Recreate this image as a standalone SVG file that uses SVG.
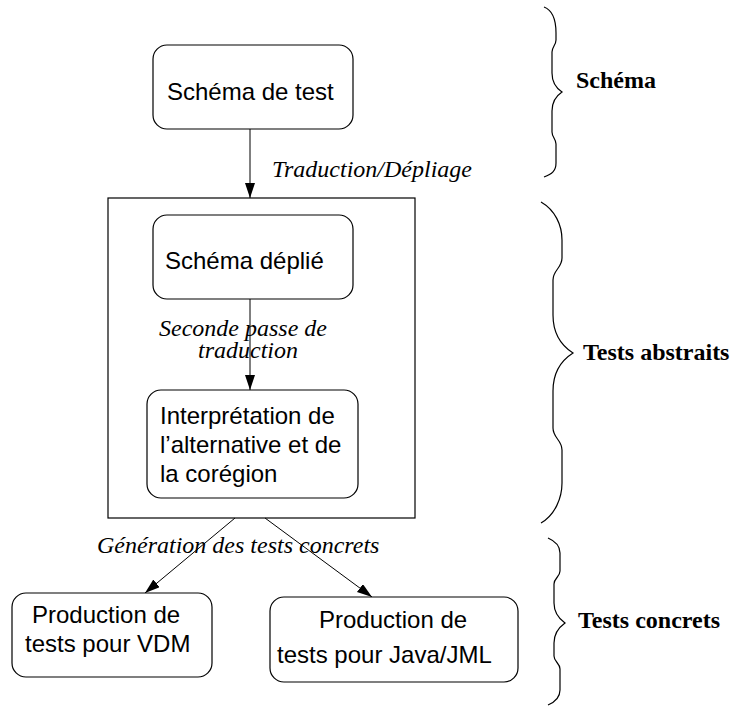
<svg xmlns="http://www.w3.org/2000/svg" width="740" height="707" viewBox="0 0 740 707">
<style>
.box{fill:#fff;stroke:#000;stroke-width:1.2}
.bt{font-family:"Liberation Sans",Arial,sans-serif;font-size:24px;fill:#000}
.it{font-family:"Liberation Serif","Times New Roman",serif;font-style:italic;font-size:24px;fill:#000}
.bd{font-family:"Liberation Serif","Times New Roman",serif;font-weight:bold;font-size:24px;fill:#000}
.ln{stroke:#000;stroke-width:1;fill:none}
.br{stroke:#000;stroke-width:1.2;fill:none}
</style>
<defs>
<marker id="ah" markerUnits="userSpaceOnUse" markerWidth="16" markerHeight="12" refX="15" refY="5" orient="auto">
<path d="M0,0 L15,5 L0,10 z" fill="#000"/>
</marker>
</defs>
<g id="connectors">
<line class="ln" x1="250" y1="129" x2="250" y2="198" marker-end="url(#ah)"/>
<line class="ln" x1="250" y1="299" x2="250" y2="390" marker-end="url(#ah)"/>
<line class="ln" x1="235" y1="518" x2="145" y2="593" marker-end="url(#ah)"/>
<line class="ln" x1="265" y1="518" x2="372" y2="597" marker-end="url(#ah)"/>
</g>
<g id="outer"><rect x="108" y="198" width="307" height="320" fill="none" stroke="#000" stroke-width="1.2"/></g>
<g id="n1"><rect class="box" x="153" y="45" width="200" height="84" rx="14"/><text class="bt" x="167" y="100">Schéma de test</text></g>
<g id="n2"><rect class="box" x="153" y="215" width="200" height="84" rx="14"/><text class="bt" x="165" y="269">Schéma déplié</text></g>
<g id="n3"><rect class="box" x="147" y="390" width="211" height="108" rx="14"/>
<text class="bt" x="160" y="424">Interprétation de</text>
<text class="bt" x="160" y="453">l’alternative et de</text>
<text class="bt" x="160" y="482">la corégion</text></g>
<g id="n4"><rect class="box" x="12" y="593" width="200" height="84" rx="14"/>
<text class="bt" x="32" y="623">Production de</text>
<text class="bt" x="25" y="652">tests pour VDM</text></g>
<g id="n5"><rect class="box" x="270" y="597" width="248" height="85" rx="14"/>
<text class="bt" x="319" y="628">Production de</text>
<text class="bt" x="277" y="663">tests pour Java/JML</text></g>
<g id="labels">
<text class="it" x="272" y="177">Traduction/Dépliage</text>
<text class="it" x="159" y="336">Seconde passe de</text>
<text class="it" x="198" y="358">traduction</text>
<text class="it" x="97" y="553">Génération des tests concrets</text>
</g>
<g id="braces">
<path class="br" d="M544,7 C552,10 556,20 556,33 L556,40 C556,45 552,47 552,52 L552,73 C552,82 556,88 562,92 C556,96 552,102 552,111 L552,132 C552,137 556,139 556,144 L556,163 C556,171 552,174 544,177"/>
<text class="bd" x="576" y="88">Schéma</text>
<path class="br" d="M541,202 C555,210 562,225 562,240 L562,258 C562,268 553,270 553,280 L553,315 C553,335 562,346 573,353 C562,360 553,371 553,391 L553,428 C553,438 562,440 562,450 L562,483 C562,498 555,515 541,523"/>
<text class="bd" x="583" y="360">Tests abstraits</text>
<path class="br" d="M548,538 C555,541 560,546 560,553 L560,571 C560,577 554,578 554,584 L554,603 C554,612 558,618 565,623 C558,628 554,634 554,643 L554,656 C554,662 560,663 560,669 L560,690 C560,697 555,702 548,705"/>
<text class="bd" x="578" y="628">Tests concrets</text>
</g>
</svg>
